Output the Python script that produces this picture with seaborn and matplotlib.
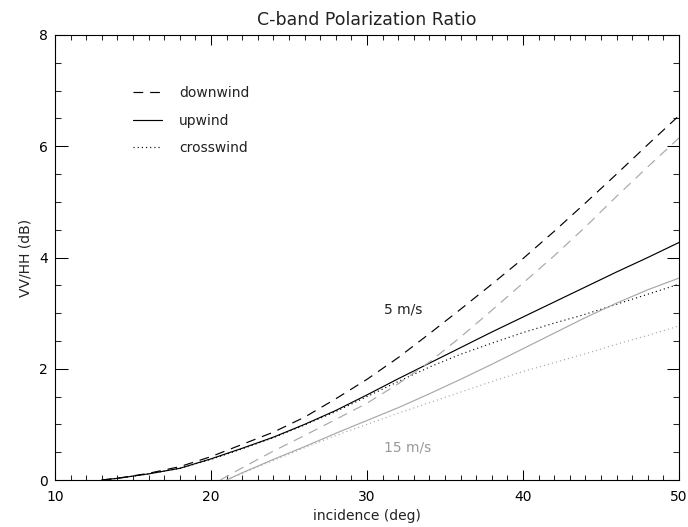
import numpy as np
import pandas as pd
import matplotlib
matplotlib.use("Agg")
import matplotlib.pyplot as plt
from matplotlib.ticker import MultipleLocator
import seaborn as sns

# ---- data ----
inc_5 = [13, 14, 16, 18, 20, 22, 24, 26, 28, 30, 32, 34, 36, 38, 40, 42, 44, 46, 48, 50]
down_5 = [0.0, 0.03, 0.12, 0.24, 0.42, 0.64, 0.86, 1.13, 1.46, 1.81, 2.2, 2.63, 3.07, 3.52, 3.98, 4.47, 4.98, 5.5, 6.03, 6.55]
up_5 = [0.0, 0.03, 0.11, 0.21, 0.38, 0.57, 0.77, 1.0, 1.25, 1.53, 1.82, 2.1, 2.38, 2.66, 2.93, 3.2, 3.47, 3.74, 4.0, 4.27]
cross_5 = [0.0, 0.03, 0.11, 0.21, 0.37, 0.56, 0.76, 0.99, 1.23, 1.5, 1.77, 2.03, 2.26, 2.46, 2.65, 2.82, 2.98, 3.16, 3.34, 3.52]

inc_15 = [20.6, 22, 24, 26, 28, 30, 32, 34, 36, 38, 40, 42, 44, 46, 48, 50]
down_15 = [0.0, 0.22, 0.52, 0.8, 1.09, 1.38, 1.73, 2.12, 2.57, 3.05, 3.54, 4.03, 4.55, 5.1, 5.63, 6.15]
inc_15s = [21.0, 22, 24, 26, 28, 30, 32, 34, 36, 38, 40, 42, 44, 46, 48, 50]
up_15 = [0.0, 0.13, 0.37, 0.6, 0.84, 1.07, 1.3, 1.55, 1.81, 2.08, 2.36, 2.64, 2.92, 3.18, 3.42, 3.63]
cross_15 = [0.0, 0.12, 0.35, 0.58, 0.8, 1.0, 1.2, 1.39, 1.58, 1.77, 1.95, 2.11, 2.27, 2.44, 2.6, 2.77]

legend_labels = ["downwind", "upwind", "crosswind"]
title = "C-band Polarization Ratio"
xlabel = "incidence (deg)"
ylabel = "VV/HH (dB)"

# ---- style ----
sns.set_style("ticks")
plt.rcParams["font.family"] = ["DejaVu Sans"]
plt.rcParams["lines.scale_dashes"] = False

fig = plt.figure(figsize=(6.88, 5.27), dpi=100)
ax = fig.add_axes([55 / 688, 47 / 527, 624 / 688, 445 / 527])

GRAY = "#a8a8a8"
DASH = (0, (7.0, 5.0))
DOT = (0, (0.8, 2.2))
LW = 0.85

sns.lineplot(x=inc_5, y=down_5, ax=ax, color="black", linestyle=DASH, lw=LW, label=legend_labels[0])
sns.lineplot(x=inc_5, y=up_5, ax=ax, color="black", linestyle="-", lw=LW, label=legend_labels[1])
sns.lineplot(x=inc_5, y=cross_5, ax=ax, color="black", linestyle=DOT, lw=LW, label=legend_labels[2])
sns.lineplot(x=inc_15, y=down_15, ax=ax, color=GRAY, linestyle=DASH, lw=LW)
sns.lineplot(x=inc_15s, y=up_15, ax=ax, color=GRAY, linestyle="-", lw=LW)
sns.lineplot(x=inc_15s, y=cross_15, ax=ax, color=GRAY, linestyle=DOT, lw=LW)

ax.set_xlim(10, 50)
ax.set_ylim(0, 8)
ax.xaxis.set_major_locator(MultipleLocator(10))
ax.xaxis.set_minor_locator(MultipleLocator(1))
ax.yaxis.set_major_locator(MultipleLocator(2))
ax.yaxis.set_minor_locator(MultipleLocator(0.5))

ax.tick_params(axis="x", which="major", direction="in", length=7.2, width=0.75,
               top=True, bottom=True, labelsize=10, pad=7.5, colors="black")
ax.tick_params(axis="x", which="minor", direction="in", length=3.6, width=0.75,
               top=True, bottom=True)
ax.tick_params(axis="y", which="major", direction="in", length=9, width=0.75,
               left=True, right=True, labelsize=10, pad=5, colors="black")
ax.tick_params(axis="y", which="minor", direction="in", length=4.5, width=0.75,
               left=True, right=True)
for s in ax.spines.values():
    s.set_visible(True)
    s.set_linewidth(0.8)
    s.set_color("black")

ax.set_title(title, fontsize=12.5, pad=7, color="#222222")
ax.set_xlabel(xlabel, fontsize=10, labelpad=3.5, color="#222222")
ax.set_ylabel(ylabel, fontsize=10, labelpad=5, color="#222222")

ax.text(31.1, 3.07, "5 m/s", fontsize=10, color="#222222", va="center", ha="left")
ax.text(31.1, 0.58, "15 m/s", fontsize=10, color="#999999", va="center", ha="left")

handles, labels = ax.get_legend_handles_labels()
leg = ax.legend(handles[:3], labels[:3], loc="upper left", bbox_to_anchor=(0.125, 0.885),
                frameon=False, fontsize=10, handlelength=2.1, handletextpad=1.2,
                labelspacing=0.97, borderpad=0, borderaxespad=0)
for t in leg.get_texts():
    t.set_color("#222222")

fig.savefig("out.png", dpi=100)
